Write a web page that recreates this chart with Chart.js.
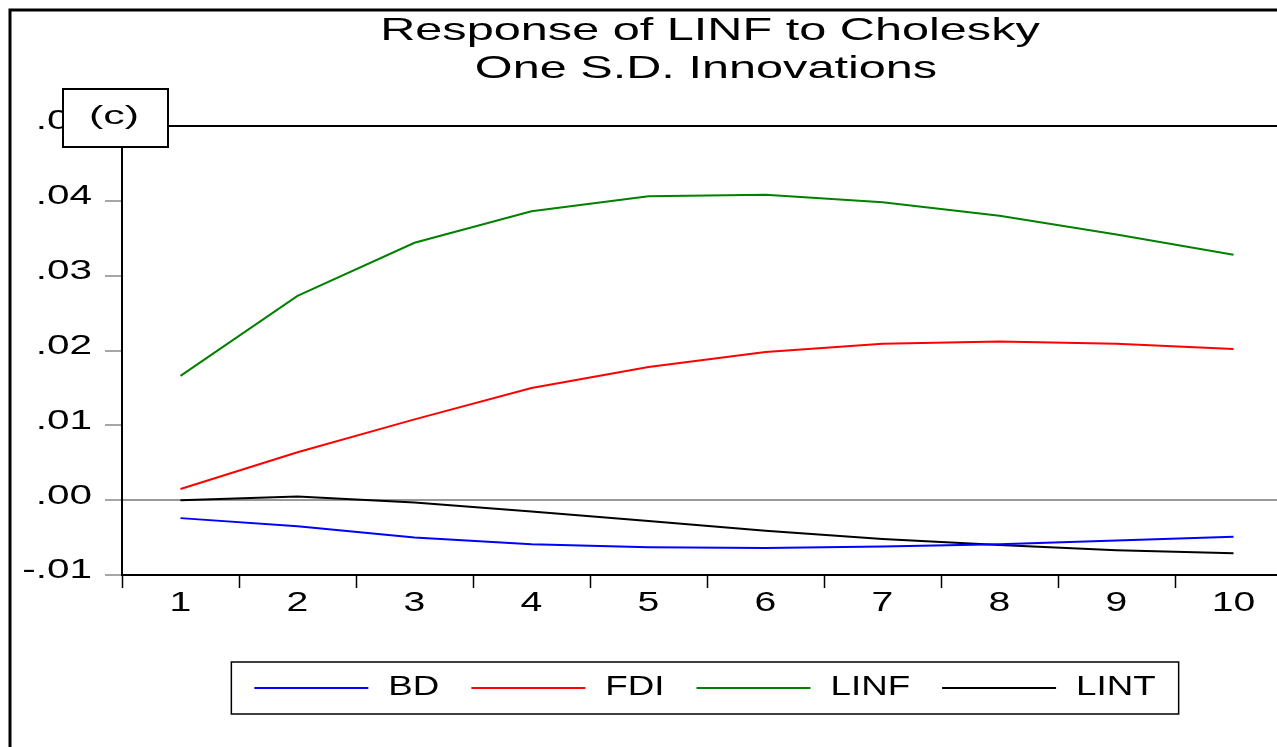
<!DOCTYPE html>
<html>
<head>
<meta charset="utf-8">
<script src="https://cdn.jsdelivr.net/npm/chart.js@4.4.1/dist/chart.umd.min.js"></script>
<style>
  html, body { margin: 0; padding: 0; background: #fff; overflow: hidden; }
  canvas { display: block; }
</style>
</head>
<body>
<canvas id="myChart" width="1292" height="747"></canvas>
<script>
const periods = ["1", "2", "3", "4", "5", "6", "7", "8", "9", "10"];

const bd = [-0.0024, -0.0035, -0.0050, -0.0059, -0.0063, -0.0064, -0.0062, -0.0059, -0.0054, -0.0049];
const fdi = [0.0015, 0.0064, 0.0108, 0.0150, 0.0178, 0.0198, 0.0209, 0.0212, 0.0209, 0.0202];
const linf = [0.0166, 0.0273, 0.0344, 0.0386, 0.0406, 0.0408, 0.0398, 0.0380, 0.0355, 0.0328];
const lint = [0.0000, 0.0005, -0.0003, -0.0015, -0.0028, -0.0041, -0.0052, -0.0060, -0.0067, -0.0071];

const titleLines = ["Response of LINF to Cholesky", "One S.D. Innovations"];
const panelTag = "(c)";

const FONT = '"Liberation Sans", Arial, sans-serif';

// the original picture is stretched sideways, so text is drawn wider than normal
function wideText(ctx, text, x, y, size, sx, align) {
  ctx.save();
  ctx.font = size + "px " + FONT;
  ctx.fillStyle = "#000";
  ctx.textBaseline = "middle";
  ctx.textAlign = align || "center";
  ctx.translate(x, y);
  ctx.scale(sx, 1);
  ctx.fillText(text, 0, 0);
  ctx.restore();
}

function textWidth(ctx, text, size, sx) {
  ctx.save();
  ctx.font = size + "px " + FONT;
  const w = ctx.measureText(text).width * sx;
  ctx.restore();
  return w;
}

function fmtY(v) {
  const s = Math.abs(v).toFixed(2).replace(/^0/, "");
  return (v < -1e-9 ? "-" : "") + s;
}

const decor = {
  id: "decor",
  afterDraw(chart) {
    const ctx = chart.ctx;
    const area = chart.chartArea;
    const xs = chart.scales.x;
    const ys = chart.scales.y;

    // outer frame (top and left)
    ctx.save();
    ctx.strokeStyle = "#000";
    ctx.lineWidth = 3;
    ctx.beginPath();
    ctx.moveTo(10, 747);
    ctx.lineTo(10, 10);
    ctx.lineTo(1292, 10);
    ctx.stroke();

    // top edge of the plot
    ctx.lineWidth = 2;
    ctx.beginPath();
    ctx.moveTo(area.left, area.top);
    ctx.lineTo(area.right, area.top);
    ctx.stroke();
    ctx.restore();

    // title
    wideText(ctx, titleLines[0], 710, 31, 32, 1.52);
    wideText(ctx, titleLines[1], 706, 69, 32, 1.52);

    // y tick labels
    ys.ticks.forEach((t, i) => {
      const py = ys.getPixelForTick(i);
      wideText(ctx, fmtY(t.value), 92, py - 4, 27, 1.5, "right");
    });

    // x tick labels
    xs.ticks.forEach((t, i) => {
      const px = xs.getPixelForTick(i);
      wideText(ctx, xs.getLabelForValue(t.value), px, 604, 27, 1.45);
    });

    // panel tag box
    ctx.save();
    ctx.fillStyle = "#fff";
    ctx.fillRect(63, 89, 105, 58);
    ctx.strokeStyle = "#000";
    ctx.lineWidth = 2;
    ctx.strokeRect(63, 89, 105, 58);
    ctx.restore();
    wideText(ctx, panelTag, 114, 117, 26, 1.65);

    // legend
    const ds = chart.data.datasets;
    const lineLen = 114, gapText = 20, gapItem = 32, pad = 23;
    const size = 27, sx = 1.36;
    let total = 0;
    ds.forEach((d, i) => {
      total += lineLen + gapText + textWidth(ctx, d.label, size, sx);
      if (i < ds.length - 1) total += gapItem;
    });
    const boxW = total + pad * 2;
    const boxL = 705 - boxW / 2;
    const boxT = 662, boxH = 52, midY = 688;
    ctx.save();
    ctx.strokeStyle = "#000";
    ctx.lineWidth = 1.5;
    ctx.strokeRect(boxL, boxT, boxW, boxH);
    let cx = boxL + pad;
    ds.forEach(d => {
      ctx.strokeStyle = d.borderColor;
      ctx.lineWidth = 2;
      ctx.beginPath();
      ctx.moveTo(cx, midY);
      ctx.lineTo(cx + lineLen, midY);
      ctx.stroke();
      cx += lineLen + gapText;
      wideText(ctx, d.label, cx, midY, size, sx, "left");
      cx += textWidth(ctx, d.label, size, sx) + gapItem;
    });
    ctx.restore();
  }
};

const data = {
  labels: periods,
  datasets: [
    { label: "BD", data: bd, borderColor: "#0000ff" },
    { label: "FDI", data: fdi, borderColor: "#ff0000" },
    { label: "LINF", data: linf, borderColor: "#008000" },
    { label: "LINT", data: lint, borderColor: "#000000" }
  ]
};

const config = {
  type: "line",
  data: data,
  options: {
    responsive: false,
    animation: false,
    layout: { padding: { top: 126, left: 0, right: 0, bottom: 0 } },
    elements: {
      point: { radius: 0 },
      line: { borderWidth: 2, tension: 0, fill: false }
    },
    plugins: {
      legend: { display: false },
      title: { display: false },
      tooltip: { enabled: false }
    },
    scales: {
      x: {
        offset: true,
        grid: {
          offset: true,
          drawOnChartArea: false,
          tickLength: 13,
          tickColor: "#000",
          tickWidth: 1.5
        },
        border: { color: "#000", width: 2 },
        ticks: { display: false },
        afterFit(s) { s.height = 172; }
      },
      y: {
        min: -0.01,
        max: 0.05,
        ticks: { display: false, stepSize: 0.01 },
        grid: {
          color: c => (c.tick && Math.abs(c.tick.value) < 1e-9 ? "#999" : "rgba(0,0,0,0)"),
          lineWidth: 2,
          tickColor: "#888",
          tickLength: 17,
          tickWidth: 1.5
        },
        border: { color: "#000", width: 2 },
        afterFit(s) { s.width = 122; }
      }
    }
  },
  plugins: [decor]
};

const ctx = document.getElementById("myChart").getContext("2d");
new Chart(ctx, config);
</script>
</body>
</html>
